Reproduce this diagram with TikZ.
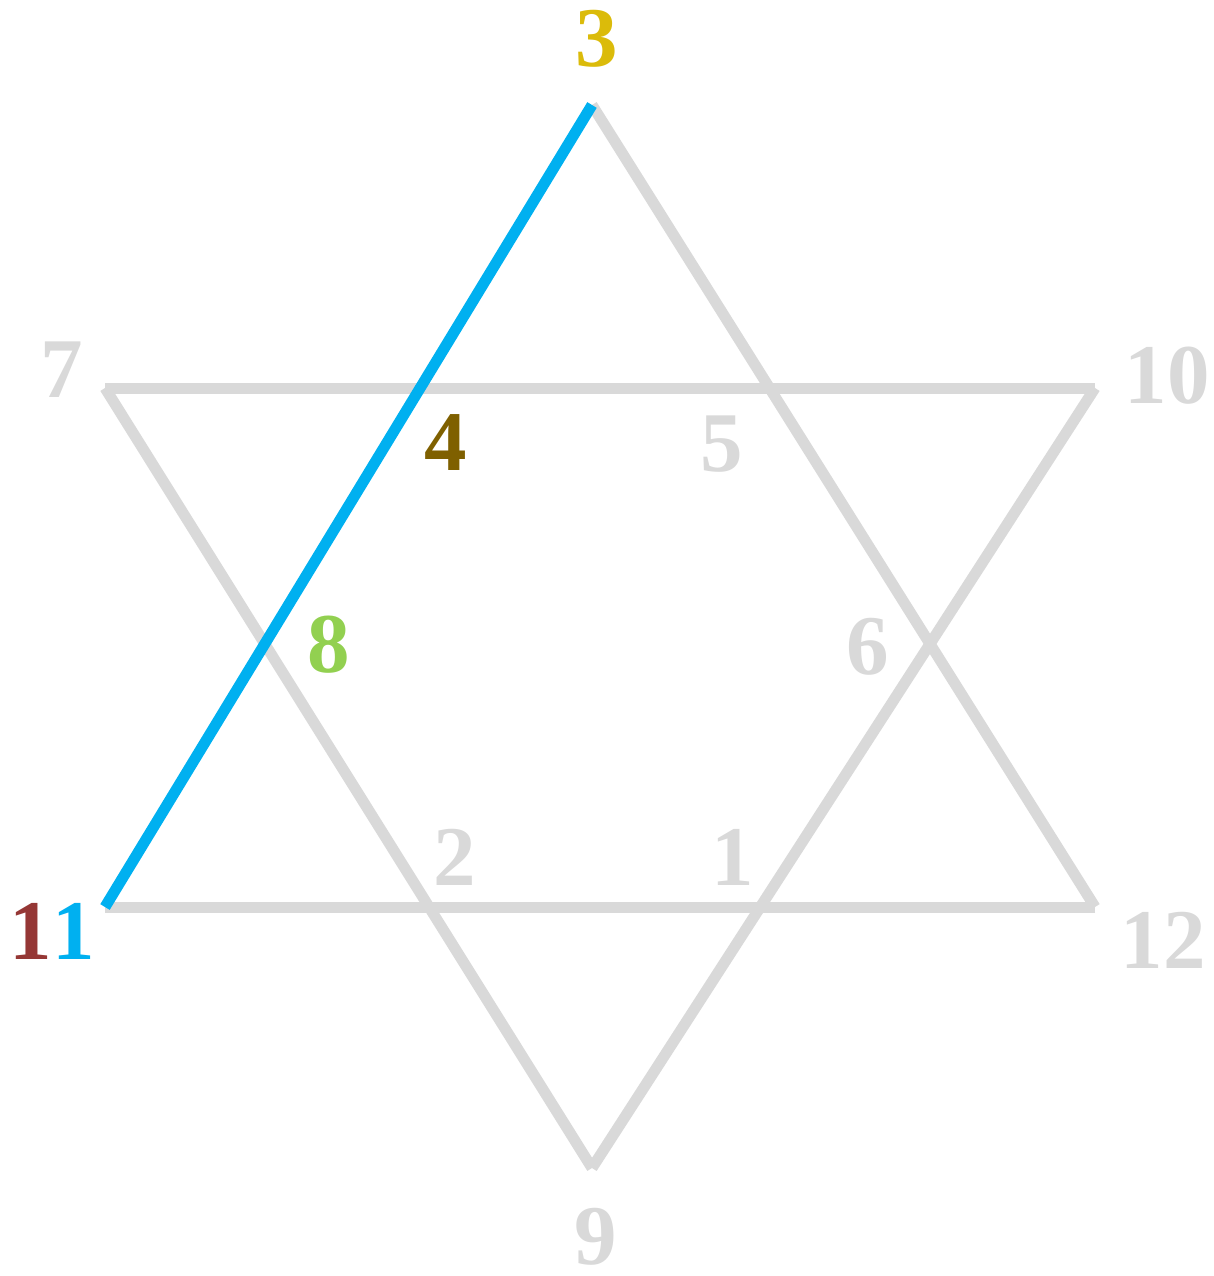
\documentclass[tikz,border=0pt]{standalone}
\usepackage{fontspec}
\setmainfont{Liberation Serif}
\definecolor{lgray}{HTML}{D9D9D9}
\definecolor{sky}{HTML}{00B0F0}
\definecolor{gold}{HTML}{DBBB0A}
\definecolor{brown}{HTML}{7F6000}
\definecolor{lgreen}{HTML}{92D050}
\definecolor{dred}{HTML}{953735}
\begin{document}
\begin{tikzpicture}[x=1pt,y=-1pt,
  edge/.style={line width=11pt,line cap=butt,lgray},
  hl/.style={line width=11pt,line cap=butt,sky},
  num/.style={inner sep=0pt,font=\fontsize{85}{85}\selectfont\bfseries,text=lgray}]
\useasboundingbox (0,0) rectangle (1214,1276);
\coordinate (v3) at (592,105);
\coordinate (v7) at (105,388);
\coordinate (v10) at (1095,388);
\coordinate (v11) at (105,907);
\coordinate (v12) at (1095,907);
\coordinate (v9) at (592,1168);
\draw[edge] (v3) -- (v12);
\draw[edge] (v12) -- (v11);
\draw[edge] (v7) -- (v10);
\draw[edge] (v10) -- (v9);
\draw[edge] (v9) -- (v7);
\draw[hl] (v3) -- (v11);
\node[num,text=gold] (n3) at (597,39) {3};
\node[num] (n7) at (62,370) {7};
\node[num] (n10) at (1167,376) {10};
\node[num,text=brown] (n4) at (446,443) {4};
\node[num] (n5) at (722,444) {5};
\node[num,text=lgreen] (n8) at (329,645) {8};
\node[num] (n6) at (868,647) {6};
\node[num] (n2) at (455,857) {2};
\node[num] (n1) at (733,857) {1};
\node[num] (n11) at (52,931) {\textcolor{dred}{1}\textcolor{sky}{1}};
\node[num] (n12) at (1163,940) {12};
\node[num] (n9) at (596,1237) {9};
\end{tikzpicture}
\end{document}
